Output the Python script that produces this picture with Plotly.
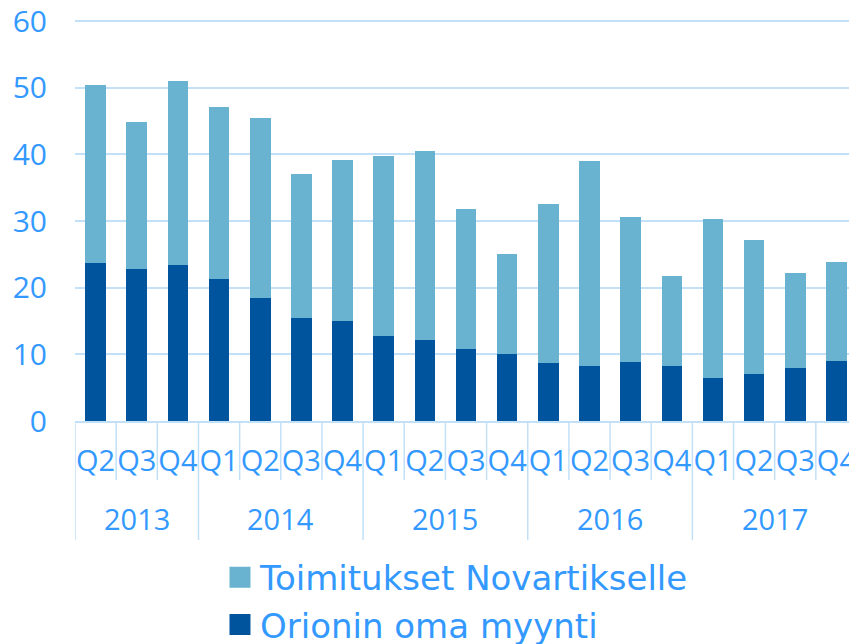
import plotly.graph_objects as go

years = ["2013"] * 3 + ["2014"] * 4 + ["2015"] * 4 + ["2016"] * 4 + ["2017"] * 4
quarters = ["Q2", "Q3", "Q4",
            "Q1", "Q2", "Q3", "Q4",
            "Q1", "Q2", "Q3", "Q4",
            "Q1", "Q2", "Q3", "Q4",
            "Q1", "Q2", "Q3", "Q4"]

orion_own = [23.7, 22.8, 23.4, 21.25, 18.45, 15.5, 15.0, 12.75, 12.15, 10.8,
             10.05, 8.7, 8.3, 8.85, 8.3, 6.45, 7.1, 7.95, 9.0]
totals = [50.4, 44.9, 50.95, 47.15, 45.45, 37.1, 39.2, 39.75, 40.5, 31.8,
          25.1, 32.5, 38.95, 30.6, 21.8, 30.25, 27.15, 22.15, 23.8]
novartis = [round(t - o, 2) for t, o in zip(totals, orion_own)]

y_ticks = [0, 10, 20, 30, 40, 50, 60]

name_novartis = "Toimitukset Novartikselle"
name_orion = "Orionin oma myynti"

c_dark = "#00549E"
c_light = "#6AB3D0"
c_text = "#3399FF"
c_grid = "#C2E0F7"

cats = [f"{y} {q}" for y, q in zip(years, quarters)]
n = len(cats)

fig = go.Figure()
fig.add_trace(go.Bar(x=cats, y=orion_own, name=name_orion,
                     marker=dict(color=c_dark, line=dict(width=0)), showlegend=False))
fig.add_trace(go.Bar(x=cats, y=novartis, name=name_novartis,
                     marker=dict(color=c_light, line=dict(width=0)), showlegend=False))
# legend entries with larger square symbols
fig.add_trace(go.Scatter(x=[None], y=[None], mode="markers", name=name_novartis,
                         marker=dict(symbol="square", size=16, color=c_light,
                                     line=dict(color=c_light, width=5))))
fig.add_trace(go.Scatter(x=[None], y=[None], mode="markers", name=name_orion,
                         marker=dict(symbol="square", size=16, color=c_dark,
                                     line=dict(color=c_dark, width=5))))

plot_h = 402.0
q_len = 59 / plot_h
y_len = 119 / plot_h

shapes = []
# boundaries between categories (short) and between years (long)
for i in range(n + 1):
    is_year_edge = (i == 0 or i == n or years[i] != years[i - 1])
    shapes.append(dict(type="line", xref="x", yref="paper",
                       x0=i - 0.5, x1=i - 0.5, y0=0, y1=-(y_len if is_year_edge else q_len),
                       line=dict(color=c_grid, width=1.5), layer="above"))

annotations = []
uniq_years = []
for y in years:
    if y not in uniq_years:
        uniq_years.append(y)
for y in uniq_years:
    idx = [i for i, v in enumerate(years) if v == y]
    annotations.append(dict(x=sum(idx) / len(idx), xref="x", y=-98 / plot_h, yref="paper",
                            text=y, showarrow=False, yanchor="middle", xanchor="center",
                            font=dict(family="Open Sans", size=29, color=c_text)))

# page body has an 8px default margin, so the figure is 8px smaller than the window
fig.update_layout(
    width=849, height=636,
    margin=dict(l=67, r=0, t=11, b=223, autoexpand=False),
    barmode="stack", bargap=0.5,
    plot_bgcolor="white", paper_bgcolor="white",
    font=dict(family="Open Sans", color=c_text, size=29),
    legend=dict(orientation="v", x=0.1854, xanchor="left", y=0.150, yref="container",
                yanchor="top", traceorder="normal",
                font=dict(family="DejaVu Sans", size=34, color=c_text),
                itemsizing="trace", bgcolor="rgba(0,0,0,0)"),
    shapes=shapes,
    annotations=annotations,
)
fig.update_yaxes(range=[0, 60.3], tickvals=y_ticks, automargin=False,
                 showgrid=True, gridcolor=c_grid, gridwidth=1.5,
                 zeroline=False, showline=False, ticks="", ticklabelstandoff=27,
                 ticklabeloverflow="allow",
                 tickfont=dict(family="Open Sans", size=30, color=c_text))
fig.update_xaxes(type="category", tickvals=cats, ticktext=quarters, tickangle=0,
                 range=[-0.5, n - 0.5], automargin=False,
                 showline=True, linecolor=c_grid, linewidth=1.5,
                 ticks="", ticklabelstandoff=13, showgrid=False,
                 tickfont=dict(family="Open Sans", size=29, color=c_text))

fig.write_html("out.html")
